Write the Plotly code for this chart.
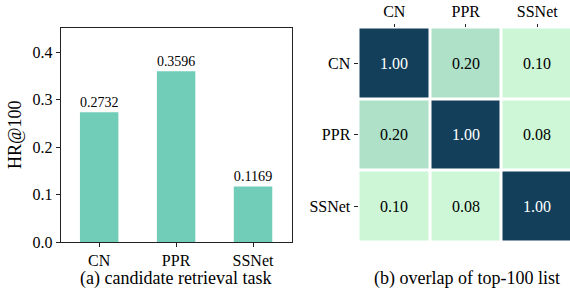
import plotly.graph_objects as go

methods = ["CN", "PPR", "SSNet"]
hr100 = [0.2732, 0.3596, 0.1169]
hr_labels = ["0.2732", "0.3596", "0.1169"]
overlap = [
    [1.00, 0.20, 0.10],
    [0.20, 1.00, 0.08],
    [0.10, 0.08, 1.00],
]
y_ticks = [0.0, 0.1, 0.2, 0.3, 0.4]

W, H = 570, 289
FONT = "Liberation Serif"
BAR_COLOR = "#72CDB8"

def px_x(p):
    return p / W

def px_y(p):
    return (H - p) / H

fig = go.Figure()

fig.add_trace(go.Bar(
    x=methods, y=hr100, width=0.5, marker=dict(color=BAR_COLOR, line=dict(width=0)),
    text=hr_labels, textposition="outside", cliponaxis=False,
    textfont=dict(family=FONT, size=16, color="black"),
    xaxis="x", yaxis="y", showlegend=False,
))

text_vals = [[f"{v:.2f}" for v in row] for row in overlap]
fig.add_trace(go.Heatmap(
    z=overlap, x=methods, y=methods, xaxis="x2", yaxis="y2",
    zmin=0, zmax=1,
    colorscale=[[0.0, "#D0F9D9"], [0.1, "#CCF6D5"], [0.2, "#AEE1C8"], [1.0, "#133F5A"]],
    showscale=False, xgap=3, ygap=3, hoverinfo="skip",
))

for i, r in enumerate(methods):
    for j, c in enumerate(methods):
        v = overlap[i][j]
        fig.add_annotation(
            x=c, y=r, xref="x2", yref="y2", text=text_vals[i][j], showarrow=False,
            font=dict(family=FONT, size=16, color="white" if v > 0.5 else "black"),
        )

y_top = px_y(27.5)
y_bot = px_y(242)

fig.update_layout(
    width=W, height=H, margin=dict(l=0, r=0, t=0, b=0, autoexpand=False),
    paper_bgcolor="white", plot_bgcolor="white",
    font=dict(family=FONT, size=16, color="black"),
    xaxis=dict(domain=[px_x(60.7), px_x(291.5)], range=[-0.5, 2.5], automargin=False,
               showline=True, linecolor="#222", linewidth=1, mirror=True,
               ticks="outside", ticklen=4, tickcolor="#222",
               tickfont=dict(family=FONT, size=16), anchor="y"),
    yaxis=dict(domain=[y_bot, y_top], range=[0, 0.4517], automargin=False,
               tickvals=y_ticks, ticktext=[f"{v:.1f}" for v in y_ticks],
               showline=True, linecolor="#222", linewidth=1, mirror=True,
               ticks="outside", ticklen=4, tickcolor="#222", showgrid=False,
               zeroline=False, tickfont=dict(family=FONT, size=16),
               title=dict(text="HR@100", font=dict(family=FONT, size=18), standoff=6),
               anchor="x"),
    xaxis2=dict(domain=[px_x(358.5), 1.0], range=[-0.5, -0.5 + (570 - 358.5) / 71.5],
                automargin=False, side="top", ticks="outside", ticklen=3, tickcolor="#222",
                showline=False, showgrid=False, zeroline=False,
                tickfont=dict(family=FONT, size=16), anchor="y2"),
    yaxis2=dict(domain=[y_bot, y_top], range=[2.5, -0.5], automargin=False,
                ticks="outside", ticklen=4, tickcolor="#222",
                showline=False, showgrid=False, zeroline=False,
                tickfont=dict(family=FONT, size=16), anchor="x2"),
)

fig.add_annotation(x=px_x(175), y=px_y(278), xref="paper", yref="paper",
                   text="(a) candidate retrieval task", showarrow=False,
                   font=dict(family=FONT, size=18), xanchor="center", yanchor="middle")
fig.add_annotation(x=px_x(467), y=px_y(278), xref="paper", yref="paper",
                   text="(b) overlap of top-100 list", showarrow=False,
                   font=dict(family=FONT, size=18), xanchor="center", yanchor="middle")

fig.write_html(
    "out.html",
    config={"displayModeBar": False, "staticPlot": True},
    post_script="document.body.style.margin='0';document.body.style.overflow='hidden';",
)
